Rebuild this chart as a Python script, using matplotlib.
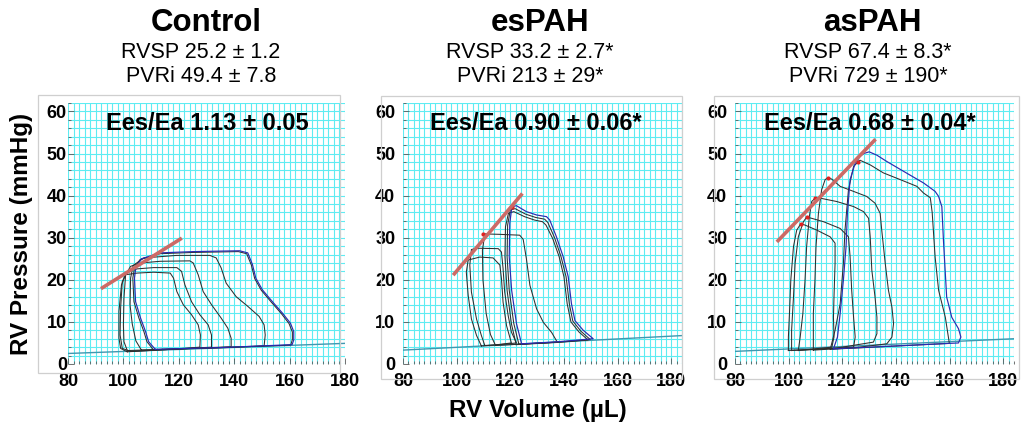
import matplotlib
matplotlib.use("Agg")
import matplotlib.pyplot as plt
from matplotlib.patches import Rectangle
from matplotlib.ticker import MultipleLocator

plt.rcParams['font.family'] = ['Liberation Sans', 'DejaVu Sans']

# ---- panel texts ----
groups = ["Control", "esPAH", "asPAH"]
rvsp_text = ["RVSP 25.2 \u00b1 1.2", "RVSP 33.2 \u00b1 2.7*", "RVSP 67.4 \u00b1 8.3*"]
pvri_text = ["PVRi 49.4 \u00b1 7.8", "PVRi 213 \u00b1 29*", "PVRi 729 \u00b1 190*"]
ees_ea_text = ["Ees/Ea 1.13 \u00b1 0.05", "Ees/Ea 0.90 \u00b1 0.06*", "Ees/Ea 0.68 \u00b1 0.04*"]

x_ticks = [80, 100, 120, 140, 160, 180]
y_ticks = [0, 10, 20, 30, 40, 50, 60]

# ---- Control loops (volume uL, pressure mmHg) ----
ctrl_a = [(111.5, 3.5), (135, 3.9), (160.9, 4.6), (161.5, 5.7), (161.5, 7.7), (160.3, 9.7),
          (157.4, 12.1), (153.8, 14.8), (150.2, 17.6), (147.8, 20.4), (146.6, 23.6), (144.9, 26.4),
          (141.9, 26.9), (125.2, 26.7), (113.3, 26.4), (106.5, 25.0), (104.5, 23.0), (104.0, 20.4),
          (104.4, 14.8), (106.2, 10.9), (108.0, 7.7), (109.1, 5.3)]
ctrl_a2 = [(110.8, 3.4), (135, 3.85), (160.4, 4.5), (161.0, 5.8), (161.0, 7.6), (159.8, 9.6),
           (157.0, 12.0), (153.4, 14.7), (149.8, 17.5), (147.4, 20.3), (146.2, 23.5), (144.5, 26.2),
           (141.5, 26.7), (125.2, 26.5), (113.3, 26.2), (106.0, 24.8), (104.0, 22.8), (103.4, 20.4),
           (103.8, 14.8), (105.6, 10.9), (107.4, 7.7), (108.5, 5.3)]
ctrl_b = [(106.5, 3.3), (130, 3.8), (150.8, 4.3), (151.2, 6.9), (150.8, 9.3), (149.0, 11.3),
          (144.9, 13.7), (140.7, 16.0), (137.1, 19.2), (135.3, 22.8), (133.5, 25.2), (131.2, 25.8),
          (119.3, 25.8), (107.4, 25.2), (103.5, 23.4), (102.6, 20.4), (102.4, 14.0), (103.2, 9.5),
          (104.5, 5.5)]
ctrl_c = [(101.4, 3.2), (120, 3.6), (138.9, 4.1), (138.9, 6.1), (137.7, 8.5), (135.3, 10.9),
          (131.8, 14.1), (128.8, 17.2), (127.0, 21.2), (125.2, 24.0), (124.0, 24.5), (113.3, 24.4),
          (106.2, 24.0), (102.6, 23.2), (100.8, 21.2), (100.2, 15.6), (100.0, 9.3), (100.2, 5.3)]
ctrl_d = [(102.6, 3.0), (118, 3.5), (131.8, 4.0), (131.8, 6.9), (130.6, 9.3), (127.6, 11.7),
          (124.6, 14.8), (122.2, 18.8), (121.0, 22.0), (119.3, 22.9), (110.9, 22.9), (105.0, 22.6),
          (101.4, 22.0), (99.6, 19.6), (99.0, 13.3), (98.8, 6.9), (99.6, 3.7)]
ctrl_e = [(101.4, 2.9), (115, 3.4), (127.6, 4.0), (127.8, 6.9), (127.0, 9.3), (124.6, 11.7),
          (121.6, 14.1), (119.3, 17.2), (118.1, 20.4), (116.9, 21.6), (110.9, 21.8), (105.0, 21.6),
          (100.8, 21.2), (99.3, 18.8), (98.4, 12.5), (98.4, 6.1), (99.0, 3.7)]

# ---- esPAH loops ----
es_a = [(124.2, 4.8), (138, 5.3), (150.9, 6.0), (147.2, 8.0), (144.1, 10.3), (142.8, 14.3),
        (141.6, 20.7), (139.7, 25.5), (137.2, 30.2), (134.7, 34.2), (133.5, 35.0), (129.8, 35.4),
        (126.0, 36.2), (122.3, 37.6), (120.6, 37.4), (119.8, 33.4), (119.6, 25.5), (120.5, 17.5),
        (122.3, 9.6)]
es_a2 = [(123.2, 4.7), (138, 5.2), (149.8, 5.8), (146.3, 7.8), (143.3, 10.2), (142.0, 14.3),
         (140.8, 20.7), (138.9, 25.5), (136.5, 30.0), (134.0, 33.6), (132.8, 34.4), (129.5, 34.8),
         (125.7, 35.6), (121.8, 36.9), (120.0, 36.6), (119.0, 33.0), (118.8, 25.5), (119.6, 17.5),
         (121.3, 9.6)]
es_a3 = [(122.2, 4.6), (137, 5.1), (149.0, 5.7), (145.6, 7.6), (142.6, 10.0), (141.2, 14.3),
         (140.0, 20.7), (138.2, 25.5), (135.8, 29.8), (133.3, 33.0), (132.0, 33.8), (129.0, 34.2),
         (125.3, 35.0), (121.3, 36.2), (119.3, 35.8), (118.2, 32.6), (118.0, 25.5), (118.8, 17.5),
         (120.4, 9.6)]
es_b = [(114.5, 4.4), (126, 4.8), (137.5, 5.2), (135.4, 7.5), (132.3, 9.9), (129.8, 13.1),
        (127.3, 18.7), (126.0, 25.0), (124.8, 29.6), (123.5, 30.6), (116.0, 30.8), (110.5, 30.9),
        (109.6, 27.0), (109.8, 20.0), (111.0, 12.0), (112.6, 7.0)]
es_c = [(110.5, 4.4), (116, 4.6), (122.3, 5.0), (120.4, 7.6), (119.2, 11.5), (117.9, 17.1),
        (117.3, 22.7), (116.7, 26.6), (115.5, 27.4), (108.0, 27.5), (105.5, 27.2), (104.9, 23.5),
        (105.5, 17.1), (107.4, 10.7), (109.2, 6.8)]
es_d = [(109.2, 4.3), (114, 4.5), (120.4, 5.0), (118.6, 9.1), (117.3, 14.7), (116.7, 20.3),
        (116.1, 23.5), (113.6, 25.2), (108.6, 25.4), (104.3, 24.7), (103.6, 21.8), (104.3, 16.3),
        (105.5, 10.7), (107.4, 6.8)]

# ---- asPAH loops ----
as_a = [(116.7, 3.6), (140, 4.3), (163.3, 5.0), (164.2, 6.4), (163.3, 8.4), (160.8, 11.1),
        (158.9, 15.9), (157.7, 29.4), (157.1, 37.4), (155.9, 39.8), (154.6, 41.0), (150.3, 43.0),
        (144.1, 45.3), (136.6, 48.1), (132.9, 49.6), (130.0, 50.4), (128.0, 50.0), (126.6, 49.3),
        (124.8, 47.7), (122.9, 43.8), (121.9, 35.8), (121.4, 27.9), (120.4, 19.9), (119.2, 12.0),
        (118.2, 6.4)]
as_b = [(115.5, 3.5), (138, 4.2), (159.9, 4.9), (158.4, 11.1), (155.9, 17.5), (154.6, 25.4),
        (153.5, 36.0), (152.8, 39.5), (150.3, 40.6), (147.8, 42.2), (141.6, 43.8), (135.3, 45.4),
        (130.4, 47.3), (126.6, 48.4), (126.0, 48.1), (124.2, 46.9), (122.3, 41.4), (121.0, 31.8),
        (120.4, 23.9), (119.2, 14.3), (117.3, 8.0)]
as_c = [(109.2, 3.3), (125, 3.9), (136.6, 4.8), (138.5, 6.4), (139.1, 9.6), (138.5, 13.5),
        (137.2, 17.5), (136.0, 23.9), (134.7, 31.8), (134.1, 35.8), (132.2, 38.2), (129.1, 39.8),
        (124.2, 41.0), (119.2, 42.2), (116.1, 43.9), (114.8, 44.3), (113.6, 43.8), (112.3, 41.4),
        (111.1, 35.8), (110.2, 27.9), (109.8, 19.9), (109.2, 12.0), (109.2, 4.0)]
as_d = [(103.6, 3.2), (118, 3.8), (131.6, 5.2), (132.9, 7.2), (132.9, 11.1), (132.2, 15.9),
        (131.0, 22.3), (130.4, 30.2), (129.8, 34.6), (127.9, 36.2), (124.2, 37.4), (117.9, 38.6),
        (111.7, 39.4), (109.9, 39.4), (108.6, 38.6), (107.7, 35.0), (106.7, 27.9), (106.1, 19.9),
        (105.3, 12.0), (104.3, 6.4)]
as_e = [(101.1, 3.2), (112, 3.6), (124.2, 4.0), (124.8, 6.4), (124.2, 11.1), (123.5, 17.5),
        (122.9, 25.5), (122.3, 30.2), (119.2, 32.2), (113.0, 33.8), (108.6, 34.6), (106.7, 34.9),
        (105.5, 33.8), (103.6, 30.2), (102.4, 23.9), (101.8, 15.9), (101.1, 8.0)]
as_f = [(99.9, 3.2), (108, 3.5), (116.1, 4.0), (116.9, 6.4), (116.7, 11.1), (116.9, 15.9),
        (117.3, 23.9), (117.3, 28.7), (115.5, 30.2), (110.5, 31.8), (106.1, 33.0), (104.5, 33.3),
        (103.0, 31.8), (101.8, 27.9), (100.8, 19.9), (100.3, 12.0), (99.9, 6.4)]

# black loops and the highlighted (blue) loop of each panel
black_loops = [[ctrl_a2, ctrl_b, ctrl_c, ctrl_d, ctrl_e],
               [es_a2, es_a3, es_b, es_c, es_d],
               [as_b, as_c, as_d, as_e, as_f]]
blue_loops = [ctrl_a, es_a, as_a]

# end-systolic pressure-volume relation (red line) endpoints
espvr_vol = [[91.9, 121.1], [98.7, 124.5], [95.6, 132.4]]
espvr_prs = [[17.9, 29.9], [21.1, 40.5], [29.0, 53.4]]
# end-systolic points marked in red
es_pts_vol = [[], [109.9, 120.6], [104.5, 106.7, 109.9, 114.8, 126.0]]
es_pts_prs = [[], [30.9, 37.4], [33.3, 34.9, 39.4, 44.3, 48.1]]
# diastolic baseline
base_vol = [[80, 180], [80, 184], [80, 184]]
base_prs = [[2.5, 4.9], [3.3, 6.75], [3.0, 6.0]]

# ---- layout (pixels of a 1023 x 428 image) ----
W, H = 1023, 428
fig = plt.figure(figsize=(W / 100, H / 100), dpi=100)

def fx(px):
    return px / W

def fy(py):
    return 1 - py / H

axes_left = [68, 403, 735]
axes_width = [277, 279, 279]
x_max = [180, 184, 184]
ytick_pad = [0.8, 5.5, 5.5]
boxes = [(38, 95, 340, 373), (381, 96, 682, 379), (714, 96, 1019, 379)]
title_x = [206, 540, 872]
stat_x = [201, 530, 868]
ees_x = [207, 536, 870]

grid_color = '#5eecf2'

for i in range(3):
    x0, y0, x1, y1 = boxes[i]
    fig.patches.append(Rectangle((fx(x0), fy(y1)), (x1 - x0) / W, (y1 - y0) / H,
                                 transform=fig.transFigure, fill=False,
                                 ec='#cfcfcf', lw=0.9, zorder=0))

    ax = fig.add_axes([fx(axes_left[i]), fy(364), axes_width[i] / W, 261 / H])
    ax.set_xlim(80, x_max[i])
    ax.set_ylim(0, 62)
    ax.set_xticks(x_ticks)
    ax.set_yticks(y_ticks)
    ax.xaxis.set_minor_locator(MultipleLocator(2))
    ax.yaxis.set_minor_locator(MultipleLocator(2))
    ax.grid(True, which='both', color=grid_color, lw=0.8)
    ax.set_axisbelow(True)
    for s in ax.spines.values():
        s.set_visible(False)
    ax.tick_params(which='both', direction='in', color='0.35', width=0.6)
    ax.tick_params(which='major', length=4)
    ax.tick_params(which='minor', length=2.5)
    ax.tick_params(axis='x', pad=6.5)
    ax.tick_params(axis='y', pad=ytick_pad[i])
    for lab in ax.get_xticklabels() + ax.get_yticklabels():
        lab.set_fontsize(13)
        lab.set_fontweight('bold')

    ax.plot(base_vol[i], base_prs[i], color='#3f98b0', lw=1.0, zorder=2)
    for loop in black_loops[i]:
        v = [p[0] for p in loop] + [loop[0][0]]
        p = [p[1] for p in loop] + [loop[0][1]]
        ax.plot(v, p, color='#2e2e2e', lw=0.75, zorder=3)
    loop = blue_loops[i]
    v = [p[0] for p in loop] + [loop[0][0]]
    p = [p[1] for p in loop] + [loop[0][1]]
    ax.plot(v, p, color='#2a2ab0', lw=0.85, zorder=4)
    ax.plot(es_pts_vol[i], es_pts_prs[i], 'o', color='#e02020', ms=2, zorder=5)
    ax.plot(espvr_vol[i], espvr_prs[i], color='#cc6a66', lw=2.6,
            solid_capstyle='butt', zorder=6)

    fig.text(fx(title_x[i]), fy(23), groups[i], ha='center', va='center',
             fontsize=22.5, fontweight='bold')
    fig.text(fx(stat_x[i]), fy(53), rvsp_text[i], ha='center', va='center', fontsize=15.5)
    fig.text(fx(stat_x[i]), fy(76), pvri_text[i], ha='center', va='center', fontsize=15.5)
    fig.text(fx(ees_x[i]), fy(124), ees_ea_text[i], ha='center', va='center',
             fontsize=17, fontweight='bold')

fig.text(fx(22), fy(234), 'RV Pressure (mmHg)', rotation=90, ha='center', va='center',
         fontsize=17.5, fontweight='bold')
fig.text(fx(538), fy(411), 'RV Volume (\u00b5L)', ha='center', va='center',
         fontsize=17.5, fontweight='bold')

fig.savefig('out.png', dpi=100)
